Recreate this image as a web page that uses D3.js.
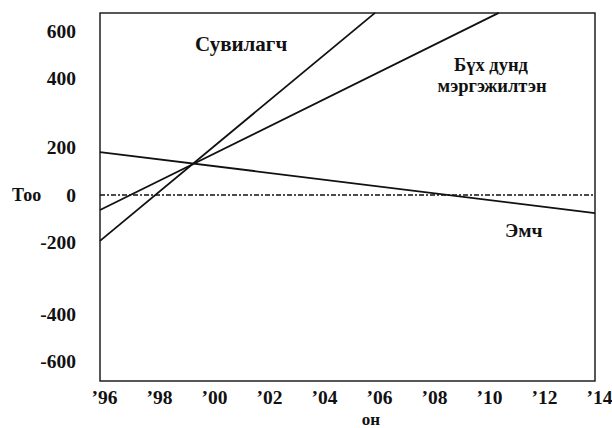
<!DOCTYPE html>
<html>
<head>
<meta charset="utf-8">
<script src="https://cdn.jsdelivr.net/npm/d3@7"></script>
<style>
  html, body { margin: 0; padding: 0; background: #fff; }
  svg { display: block; }
  text { font-family: "Liberation Serif", "Times New Roman", serif; font-weight: bold; fill: #111; }
</style>
</head>
<body>
<svg id="chart" width="612" height="428"></svg>
<script>
// ---- data ----
const xTickValues = [1996, 1998, 2000, 2002, 2004, 2006, 2008, 2010, 2012, 2014];
const xTickLabels = ["’96", "’98", "’00", "’02", "’04", "’06", "’08", "’10", "’12", "’14"];
const yTickValues = [600, 400, 200, 0, -200, -400, -600];
const yTickLabels = ["600", "400", "200", "0", "-200", "-400", "-600"];

const seriesNames = ["Сувилагч", "Бүх дунд мэргэжилтэн", "Эмч"];
const nurseYears = [1996, 2006.0];
const nurseValues = [-195, 677];
const midYears = [1996, 2010.5];
const midValues = [-64, 677];
const doctorYears = [1996, 2014];
const doctorValues = [179, -77];

const yAxisTitle = "Тоо";
const xAxisTitle = "он";

(function () {
// ---- layout ----
const svg = d3.select("#chart");
const pLeft = 100, pRight = 595, pTop = 13, pBottom = 381;
// the printed value axis is unevenly spaced; positions of its tick rows
const yTickRows = [31, 78, 147, 195, 242, 314, 361];

const x = d3.scaleLinear().domain([1996, 2014]).range([pLeft, pRight]);
const y = d3.scaleLinear().domain(yTickValues).range(yTickRows);

const ink = "#111";

// frame
svg.append("rect")
  .attr("x", pLeft).attr("y", pTop)
  .attr("width", pRight - pLeft).attr("height", pBottom - pTop)
  .attr("fill", "none").attr("stroke", ink).attr("stroke-width", 1.4);

// zero reference line (dash-dot)
svg.append("line")
  .attr("x1", pLeft).attr("x2", pRight)
  .attr("y1", y(0)).attr("y2", y(0))
  .attr("stroke", ink).attr("stroke-width", 1.5)
  .attr("stroke-dasharray", "5,2,2,2");

// series lines
const line = d3.line().x(d => x(d[0])).y(d => y(d[1]));
const series = [
  d3.zip(nurseYears, nurseValues),
  d3.zip(midYears, midValues),
  d3.zip(doctorYears, doctorValues)
];
svg.append("g").selectAll("path").data(series).join("path")
  .attr("d", line)
  .attr("fill", "none")
  .attr("stroke", ink)
  .attr("stroke-width", 1.8);

// y axis labels (no tick marks)
const yAxis = d3.axisLeft(y).tickValues(yTickValues)
  .tickFormat((d, i) => yTickLabels[i]).tickSize(0).tickPadding(24);
const gy = svg.append("g").attr("transform", `translate(${pLeft},0)`).call(yAxis);
gy.select(".domain").remove();
gy.selectAll("text").style("font-size", "19.5px")
  .style("font-family", "'Liberation Serif', serif").style("font-weight", "bold").attr("fill", ink);

// x axis labels
const xAxis = d3.axisBottom(x).tickValues(xTickValues)
  .tickFormat((d, i) => xTickLabels[i]).tickSize(0).tickPadding(9);
const gx = svg.append("g").attr("transform", `translate(0,${pBottom})`).call(xAxis);
gx.select(".domain").remove();
gx.selectAll("text").style("font-size", "19.5px")
  .style("font-family", "'Liberation Serif', serif").style("font-weight", "bold")
  .attr("dx", 4).attr("fill", ink);

// axis titles
svg.append("text").attr("x", 12).attr("y", 201).style("font-size", "18px").text(yAxisTitle);
svg.append("text").attr("x", 371).attr("y", 425).attr("text-anchor", "middle")
  .style("font-size", "17px").text(xAxisTitle);

// series labels
svg.append("text").attr("x", 195).attr("y", 51).style("font-size", "21px").text(seriesNames[0]);
svg.append("text").attr("x", 491).attr("y", 71).attr("text-anchor", "middle").style("font-size", "18.5px").text("Бүх дунд");
svg.append("text").attr("x", 492).attr("y", 92).attr("text-anchor", "middle").style("font-size", "18.5px").text("мэргэжилтэн");
svg.append("text").attr("x", 505).attr("y", 237).style("font-size", "19.5px").text(seriesNames[2]);
})();
</script>
</body>
</html>
